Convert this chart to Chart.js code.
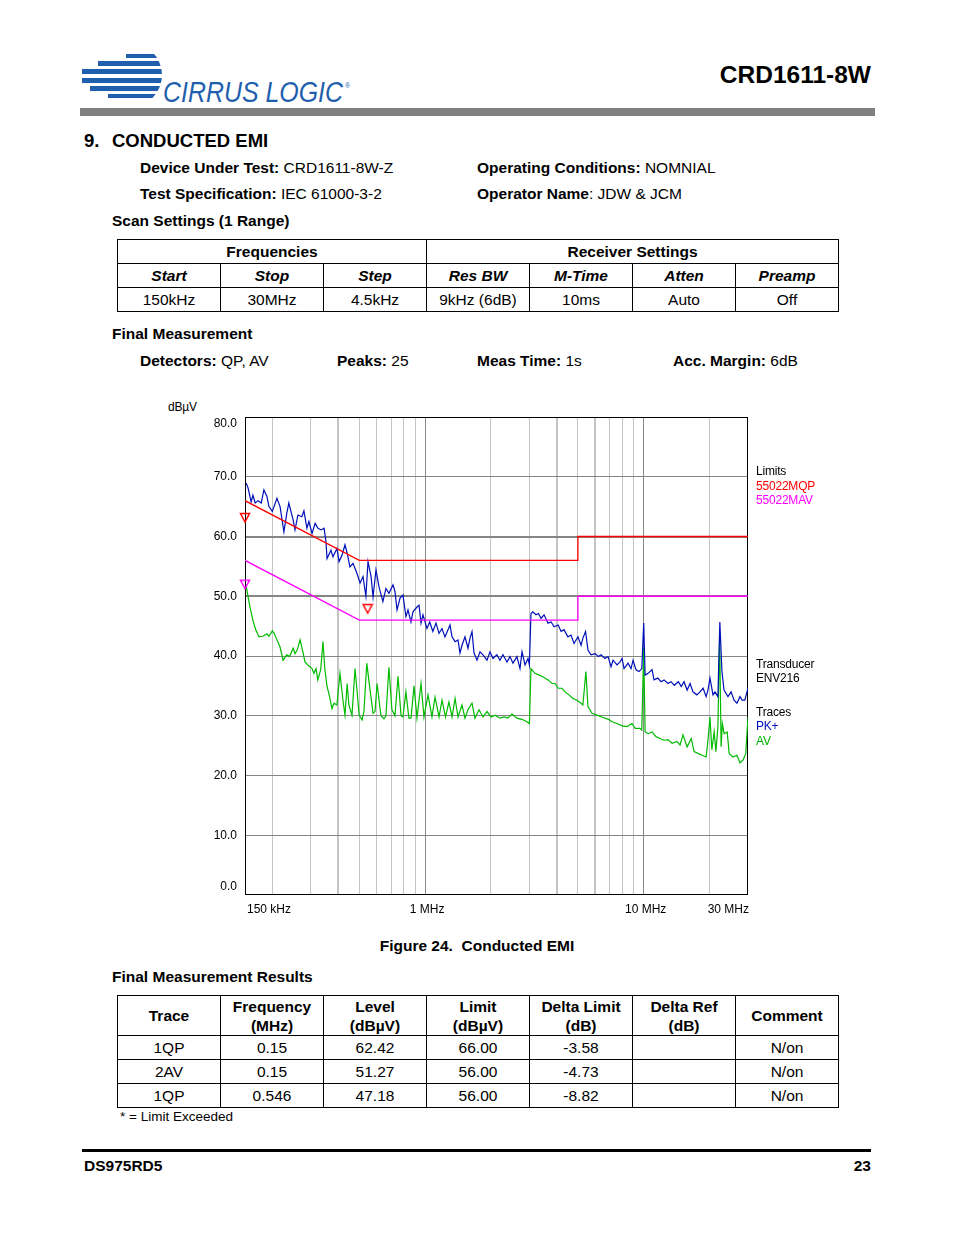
<!DOCTYPE html>
<html>
<head>
<meta charset="utf-8">
<title>CRD1611-8W Conducted EMI</title>
<script src="https://cdn.jsdelivr.net/npm/chart.js@4.4.1/dist/chart.umd.min.js"></script>
<style>
body { margin: 0; background: #fff; font-family: "Liberation Sans", Arial, sans-serif; color: #000; }
#page { position: relative; width: 954px; height: 1235px; overflow: hidden; }
.t { position: absolute; white-space: nowrap; font-size: 15.5px; line-height: 20px; }
.b { font-weight: bold; }
.small { font-size: 12px; line-height: 14px; letter-spacing: -0.2px; }
table.grid { position: absolute; left: 117px; width: 722px; border-collapse: collapse; table-layout: fixed; font-size: 15.5px; }
table.grid td { border: 1px solid #000; text-align: center; padding: 0; height: 23px; line-height: 20px; }
table.grid tr.hdr td { font-weight: bold; }
table.grid tr.ital td { font-weight: bold; font-style: italic; }
table.grid tr.two td { height: 39px; line-height: 19px; font-weight: bold; }
#chartBox { position: absolute; left: 150px; top: 395px; width: 680px; height: 530px; }
</style>
</head>
<body>
<div id="page">
  <svg width="280" height="64" viewBox="0 0 280 64" style="position:absolute;left:78px;top:48px">
    <defs>
      <clipPath id="globe"><circle cx="52" cy="27" r="32"/><rect x="0" y="0" width="52" height="60"/></clipPath>
    </defs>
    <g fill="#1f5fae" clip-path="url(#globe)">
      <rect x="48" y="6" width="40" height="4"/>
      <rect x="20" y="13" width="70" height="5"/>
      <rect x="4" y="21" width="86" height="5"/>
      <rect x="4" y="30" width="86" height="5"/>
      <rect x="12" y="38" width="78" height="5"/>
      <rect x="30" y="46" width="60" height="4"/>
    </g>
    <text x="85" y="54" font-family="Liberation Sans, Arial, sans-serif" font-size="29" font-style="italic" fill="#1f5fae" textLength="180" lengthAdjust="spacingAndGlyphs">CIRRUS LOGIC</text>
    <text x="267" y="40" font-family="Liberation Sans, Arial, sans-serif" font-size="7" fill="#1f5fae">®</text>
  </svg>
  <div class="t b" style="right:83px;top:62px;font-size:24.5px;line-height:26px;">CRD1611-8W</div>
  <div style="position:absolute;left:80px;top:108px;width:795px;height:8px;background:#808080;"></div>

  <div class="t b" style="left:84px;top:131px;font-size:18.5px;">9.</div>
  <div class="t b" style="left:112px;top:131px;font-size:18.5px;">CONDUCTED EMI</div>
  <div class="t" style="left:140px;top:158px;"><b>Device Under Test:</b> CRD1611-8W-Z</div>
  <div class="t" style="left:477px;top:158px;"><b>Operating Conditions:</b> NOMNIAL</div>
  <div class="t" style="left:140px;top:184px;"><b>Test Specification:</b> IEC 61000-3-2</div>
  <div class="t" style="left:477px;top:184px;"><b>Operator Name</b>: JDW &amp; JCM</div>
  <div class="t b" style="left:112px;top:211px;">Scan Settings (1 Range)</div>

  <table class="grid" style="top:239px;">
    <colgroup><col><col><col><col><col><col><col></colgroup>
    <tr class="hdr"><td colspan="3">Frequencies</td><td colspan="4">Receiver Settings</td></tr>
    <tr class="ital"><td>Start</td><td>Stop</td><td>Step</td><td>Res BW</td><td>M-Time</td><td>Atten</td><td>Preamp</td></tr>
    <tr><td>150kHz</td><td>30MHz</td><td>4.5kHz</td><td>9kHz (6dB)</td><td>10ms</td><td>Auto</td><td>Off</td></tr>
  </table>

  <div class="t b" style="left:112px;top:324px;">Final Measurement</div>
  <div class="t" style="left:140px;top:351px;"><b>Detectors:</b> QP, AV</div>
  <div class="t" style="left:337px;top:351px;"><b>Peaks:</b> 25</div>
  <div class="t" style="left:477px;top:351px;"><b>Meas Time:</b> 1s</div>
  <div class="t" style="left:673px;top:351px;"><b>Acc. Margin:</b> 6dB</div>

  <div class="t small" style="left:168px;top:400px;">dBµV</div>
  <div id="chartBox"><canvas id="emiChart"></canvas></div>
  <div class="t small" style="left:756px;top:464px;">Limits</div>
  <div class="t small" style="left:756px;top:479px;color:#ff0000;">55022MQP</div>
  <div class="t small" style="left:756px;top:493px;color:#ff00ff;">55022MAV</div>
  <div class="t small" style="left:756px;top:657px;">Transducer</div>
  <div class="t small" style="left:756px;top:671px;">ENV216</div>
  <div class="t small" style="left:756px;top:705px;">Traces</div>
  <div class="t small" style="left:756px;top:719px;color:#0010c0;">PK+</div>
  <div class="t small" style="left:756px;top:734px;color:#00b400;">AV</div>

  <div class="t b" style="left:0;width:954px;text-align:center;top:936px;">Figure 24.&nbsp; Conducted EMI</div>
  <div class="t b" style="left:112px;top:967px;">Final Measurement Results</div>

  <table class="grid" id="resultTable" style="top:995px;">
    <colgroup><col><col><col><col><col><col><col></colgroup>
    <tr class="two"><td>Trace</td><td>Frequency<br>(MHz)</td><td>Level<br>(dBµV)</td><td>Limit<br>(dBµV)</td><td>Delta Limit<br>(dB)</td><td>Delta Ref<br>(dB)</td><td>Comment</td></tr>
  </table>
  <div class="t" style="left:120px;top:1107px;font-size:13.5px;">* = Limit Exceeded</div>

  <div style="position:absolute;left:82px;top:1149px;width:789px;height:3px;background:#000;"></div>
  <div class="t b" style="left:84px;top:1156px;">DS975RD5</div>
  <div class="t b" style="right:83px;top:1156px;">23</div>
</div>

<script>
// scan values (MHz, dBµV)
const pkFreq = [0.152, 0.155, 0.160, 0.163, 0.167, 0.172, 0.178, 0.183, 0.189, 0.193,
    0.200, 0.210, 0.217, 0.226, 0.233, 0.238, 0.249, 0.254, 0.262, 0.273,
    0.279, 0.288, 0.294, 0.304, 0.314, 0.323, 0.334, 0.345, 0.352, 0.356,
    0.371, 0.379, 0.395, 0.404, 0.417, 0.430, 0.440, 0.453, 0.468, 0.488,
    0.504, 0.520, 0.536, 0.548, 0.566, 0.578, 0.596, 0.615, 0.641, 0.662,
    0.683, 0.713, 0.728, 0.744, 0.768, 0.792, 0.817, 0.835, 0.862, 0.880,
    0.918, 0.938, 0.958, 0.978, 1.02, 1.05, 1.085, 1.122, 1.158, 1.195,
    1.233, 1.273, 1.30, 1.328, 1.371, 1.414, 1.444, 1.475, 1.522, 1.571,
    1.605, 1.639, 1.674, 1.727, 1.783, 1.84, 1.92, 1.98, 2.045, 2.13,
    2.2, 2.27, 2.37, 2.445, 2.524, 2.63, 2.717, 2.775, 2.865, 2.956,
    3.0, 3.05, 3.11, 3.216, 3.3, 3.39, 3.5, 3.65, 3.77, 3.89,
    4.06, 4.19, 4.32, 4.5, 4.65, 4.8, 5.0, 5.17, 5.27, 5.42,
    5.56, 5.74, 6.0, 6.2, 6.38, 6.65, 6.87, 7.09, 7.24, 7.55,
    7.79, 7.96, 8.13, 8.48, 8.75, 8.94, 9.22, 9.52, 9.8, 10.0,
    10.15, 10.47, 10.92, 11.15, 11.6, 12.0, 12.39, 12.92, 13.35, 13.8,
    14.4, 14.85, 15.29, 15.8, 16.3, 16.8, 17.5, 18.09, 18.7, 19.3,
    19.68, 20.1, 20.75, 21.2, 21.85, 22.3, 22.8, 23.3, 24.3, 25.1,
    25.9, 26.7, 27.58, 28.2, 29.0, 30.0];
const pkLevel = [68.9, 68.1, 65.8, 66.9, 65.6, 66.0, 65.6, 67.8, 66.7, 65.0,
    64.2, 66.4, 65.0, 60.8, 63.9, 65.6, 62.8, 61.1, 63.6, 63.3,
    64.3, 61.4, 62.5, 60.5, 62.2, 61.4, 61.1, 61.4, 59.1, 56.3,
    57.7, 56.6, 58.0, 55.8, 56.9, 58.6, 57.2, 54.9, 55.5, 53.8,
    52.2, 53.3, 50.0, 55.8, 53.3, 49.9, 54.4, 51.6, 49.1, 51.3,
    50.5, 51.9, 50.8, 47.7, 49.7, 50.2, 46.6, 47.7, 45.7, 47.4,
    48.2, 48.5, 45.5, 46.9, 44.6, 45.7, 44.1, 45.5, 43.8, 44.6,
    43.2, 44.4, 45.2, 43.2, 42.4, 42.7, 40.5, 41.8, 43.2, 41.3,
    43.0, 44.1, 40.5, 39.3, 40.7, 40.2, 39.3, 40.7, 39.6, 40.2,
    39.3, 40.2, 39.0, 39.9, 38.8, 39.9, 37.9, 40.7, 38.5, 39.6,
    38.5, 47.1, 47.4, 46.9, 47.1, 46.3, 46.9, 45.5, 45.7, 44.9,
    45.2, 44.1, 44.4, 43.2, 43.5, 42.1, 43.2, 41.8, 43.0, 44.1,
    41.0, 40.2, 40.4, 39.9, 40.2, 39.6, 39.9, 38.2, 39.3, 38.5,
    39.0, 39.6, 37.9, 38.8, 37.9, 39.3, 37.7, 37.4, 37.9, 45.5,
    36.8, 37.1, 37.7, 36.0, 36.3, 35.7, 36.0, 35.4, 35.7, 35.1,
    35.7, 34.9, 35.7, 34.3, 35.4, 34.0, 33.5, 34.0, 34.6, 33.2,
    34.3, 36.3, 33.5, 34.0, 33.2, 45.7, 37.4, 34.3, 33.2, 34.0,
    32.6, 32.1, 33.2, 32.6, 32.6, 34.6];

const avFreq = [0.152, 0.158, 0.163, 0.168, 0.174, 0.181, 0.189, 0.193, 0.200, 0.204,
    0.210, 0.217, 0.224, 0.233, 0.240, 0.249, 0.254, 0.260, 0.268, 0.276,
    0.282, 0.291, 0.304, 0.310, 0.317, 0.323, 0.333, 0.341, 0.348, 0.356,
    0.363, 0.375, 0.383, 0.395, 0.408, 0.421, 0.430, 0.440, 0.448, 0.463,
    0.478, 0.488, 0.499, 0.515, 0.525, 0.541, 0.560, 0.578, 0.590, 0.603,
    0.628, 0.648, 0.662, 0.683, 0.705, 0.728, 0.752, 0.776, 0.792, 0.817,
    0.843, 0.862, 0.890, 0.918, 0.958, 0.988, 1.031, 1.075, 1.11, 1.158,
    1.195, 1.24, 1.285, 1.328, 1.371, 1.414, 1.475, 1.522, 1.571, 1.639,
    1.69, 1.765, 1.84, 1.92, 2.0, 2.09, 2.2, 2.3, 2.39, 2.497,
    2.63, 2.775, 2.92, 3.0, 3.05, 3.18, 3.33, 3.47, 3.65, 3.81,
    3.93, 4.06, 4.23, 4.37, 4.55, 4.75, 4.95, 5.17, 5.27, 5.44,
    5.56, 5.68, 5.8, 6.1, 6.43, 6.9, 7.16, 7.55, 7.96, 8.39,
    8.84, 9.13, 9.62, 9.8, 10.0, 10.15, 10.47, 10.92, 11.38, 11.87,
    12.39, 12.92, 13.48, 14.2, 14.66, 15.13, 15.8, 16.5, 17.0, 17.7,
    18.5, 19.3, 19.68, 20.1, 20.5, 21.0, 21.4, 21.85, 22.25, 22.6,
    22.9, 23.35, 24.1, 24.6, 25.6, 26.7, 27.58, 28.5, 29.3, 30.0];
const avLevel = [51.6, 48.2, 46.0, 44.4, 43.2, 43.3, 43.7, 43.3, 44.2, 43.8,
    42.7, 41.5, 39.3, 40.2, 39.9, 41.3, 40.4, 41.0, 42.7, 40.7,
    39.0, 38.5, 37.9, 37.1, 37.9, 36.0, 37.7, 42.4, 37.7, 34.9,
    33.7, 31.2, 32.1, 31.8, 37.1, 32.6, 30.1, 35.4, 31.8, 30.1,
    37.9, 34.3, 30.1, 29.3, 30.7, 38.8, 34.3, 30.4, 30.7, 35.4,
    30.0, 29.5, 30.0, 38.1, 31.0, 30.0, 36.6, 30.0, 29.8, 34.0,
    29.6, 29.6, 35.0, 29.6, 35.4, 29.8, 33.5, 29.8, 33.1, 29.8,
    32.6, 29.8, 32.3, 29.8, 32.9, 29.8, 31.8, 29.6, 31.0, 32.1,
    29.6, 31.0, 29.8, 30.7, 29.8, 30.1, 29.6, 29.8, 29.6, 30.3,
    29.6, 29.4, 29.0, 28.7, 37.9, 37.1, 36.8, 36.5, 36.0, 35.4,
    35.4, 34.6, 34.6, 34.0, 33.5, 32.9, 32.6, 32.1, 31.8, 37.4,
    31.5, 31.0, 30.4, 30.1, 29.8, 29.4, 29.0, 28.7, 28.3, 28.2,
    28.7, 27.9, 27.9, 27.6, 41.3, 27.3, 27.0, 27.3, 26.5, 26.2,
    25.9, 26.0, 25.4, 25.7, 25.1, 26.8, 24.8, 26.2, 24.0, 23.7,
    23.4, 23.1, 25.9, 29.8, 24.3, 27.3, 24.0, 28.2, 43.5, 24.8,
    28.7, 27.0, 27.3, 23.7, 23.1, 23.4, 22.1, 22.6, 23.7, 29.8];

// EN 55022 class B limit lines
const limitFreq = [0.15, 0.5, 5, 5, 30];
const qpLimitLevel = [66, 56, 56, 60, 60];
const avLimitLevel = [56, 46, 46, 50, 50];

// final measurement results
const resultTrace = ['1QP', '2AV', '1QP'];
const resultFreq = [0.15, 0.15, 0.546];
const resultLevel = [62.42, 51.27, 47.18];
const resultLimit = [66.00, 56.00, 56.00];

const yTickValues = [0, 10, 20, 30, 40, 50, 60, 70, 80];
const xLabelFreqs = [0.15, 1, 10, 30];
const xLabelTexts = ['150 kHz', '1 MHz', '10 MHz', '30 MHz'];
const gridFreqs = [0.2, 0.3, 0.4, 0.5, 0.6, 0.7, 0.8, 0.9, 1, 2, 3, 4, 5, 6, 7, 8, 9, 10, 20];

const qpColour = '#ff0000';
const avLimColour = '#ff00ff';
const pkColour = '#0010b8';
const avColour = '#00bb00';

function toPoints(xs, ys) {
    return xs.map((x, i) => ({ x, y: ys[i] }));
}

// hollow down-pointing triangle whose tip sits on the value
function makeMarker(colour) {
    const c = document.createElement('canvas');
    c.width = 12;
    c.height = 20;
    const g = c.getContext('2d');
    g.strokeStyle = colour;
    g.lineWidth = 1.5;
    g.beginPath();
    g.moveTo(1.5, 1.5);
    g.lineTo(10.5, 1.5);
    g.lineTo(6, 10);
    g.closePath();
    g.stroke();
    return c;
}

function fillResultTable() {
    const table = document.getElementById('resultTable');
    resultTrace.forEach((trace, i) => {
        const row = table.insertRow();
        const cells = [trace, String(resultFreq[i]), resultLevel[i].toFixed(2),
            resultLimit[i].toFixed(2), (resultLevel[i] - resultLimit[i]).toFixed(2), '', 'N/on'];
        cells.forEach((txt) => {
            row.insertCell().textContent = txt;
        });
    });
}

const framePlugin = {
    id: 'frame',
    beforeDatasetsDraw(chart) {
        const { ctx, chartArea: a } = chart;
        ctx.save();
        ctx.strokeStyle = '#000';
        ctx.lineWidth = 1;
        ctx.strokeRect(Math.round(a.left) + 0.5, Math.round(a.top) + 0.5,
            Math.round(a.width) - 1, Math.round(a.height) - 1);
        ctx.restore();
    },
};

const axisTextPlugin = {
    id: 'axisText',
    afterDraw(chart) {
        const { ctx, chartArea, scales } = chart;
        ctx.save();
        ctx.font = '12px "Liberation Sans", Arial, sans-serif';
        ctx.fillStyle = '#000';
        ctx.textBaseline = 'middle';
        ctx.textAlign = 'right';
        yTickValues.forEach((v) => {
            let py = scales.y.getPixelForValue(v);
            if (v === 80) py += 7;
            if (v === 0) py -= 8;
            ctx.fillText(v.toFixed(1), chartArea.left - 8, py);
        });
        const last = xLabelFreqs.length - 1;
        xLabelFreqs.forEach((f, i) => {
            const px = scales.x.getPixelForValue(f);
            ctx.textAlign = i === 0 ? 'left' : (i === last ? 'right' : 'center');
            ctx.fillText(xLabelTexts[i], px + (i === last ? 1 : 2), chartArea.bottom + 15);
        });
        ctx.restore();
    },
};

function createEmiChart() {
    const qpMarker = makeMarker(qpColour);
    const avMarker = makeMarker(avLimColour);

    const data = {
        datasets: [
            {
                label: '55022MQP',
                data: toPoints(limitFreq, qpLimitLevel),
                borderColor: qpColour,
                borderWidth: 1.3,
                pointRadius: 0,
                order: 1,
            },
            {
                label: '55022MAV',
                data: toPoints(limitFreq, avLimitLevel),
                borderColor: avLimColour,
                borderWidth: 1.3,
                pointRadius: 0,
                order: 1,
            },
            {
                label: 'PK+',
                data: toPoints(pkFreq, pkLevel),
                borderColor: pkColour,
                borderWidth: 1.2,
                pointRadius: 0,
                order: 2,
            },
            {
                label: 'AV',
                data: toPoints(avFreq, avLevel),
                borderColor: avColour,
                borderWidth: 1.2,
                pointRadius: 0,
                order: 3,
            },
            {
                label: 'Final',
                data: toPoints(resultFreq, resultLevel),
                showLine: false,
                pointStyle: resultTrace.map((t) => (t.endsWith('QP') ? qpMarker : avMarker)),
                pointRadius: 6,
                clip: false,
                order: 0,
            },
        ],
    };

    const ctx = document.querySelector('#emiChart').getContext('2d');
    new Chart(ctx, {
        type: 'line',
        data,
        options: {
            animation: false,
            responsive: true,
            maintainAspectRatio: false,
            layout: {
                padding: { left: 95, top: 22, right: 82, bottom: 30 },
            },
            plugins: {
                legend: { display: false },
                tooltip: { enabled: false },
            },
            scales: {
                x: {
                    type: 'logarithmic',
                    min: 0.15,
                    max: 30,
                    afterBuildTicks: (axis) => {
                        axis.ticks = gridFreqs.map((v) => ({ value: v }));
                    },
                    ticks: { display: false },
                    border: { display: false },
                    grid: {
                        drawTicks: false,
                        color: (c) => ([1, 10].includes(c.tick.value) ? '#8a8a8a' : '#c4c4c4'),
                        lineWidth: (c) => ([0.4, 4, 6].includes(c.tick.value) ? 2 : 1),
                    },
                },
                y: {
                    min: 0,
                    max: 80,
                    ticks: { display: false, stepSize: 10 },
                    border: { display: false },
                    grid: {
                        drawTicks: false,
                        color: (c) => (c.tick.value === 0 || c.tick.value === 80 ? 'rgba(0,0,0,0)' : '#858585'),
                        lineWidth: (c) => ([50, 60].includes(c.tick.value) ? 2 : 1),
                    },
                },
            },
        },
        plugins: [framePlugin, axisTextPlugin],
    });
}

fillResultTable();
createEmiChart();
</script>
</body>
</html>
